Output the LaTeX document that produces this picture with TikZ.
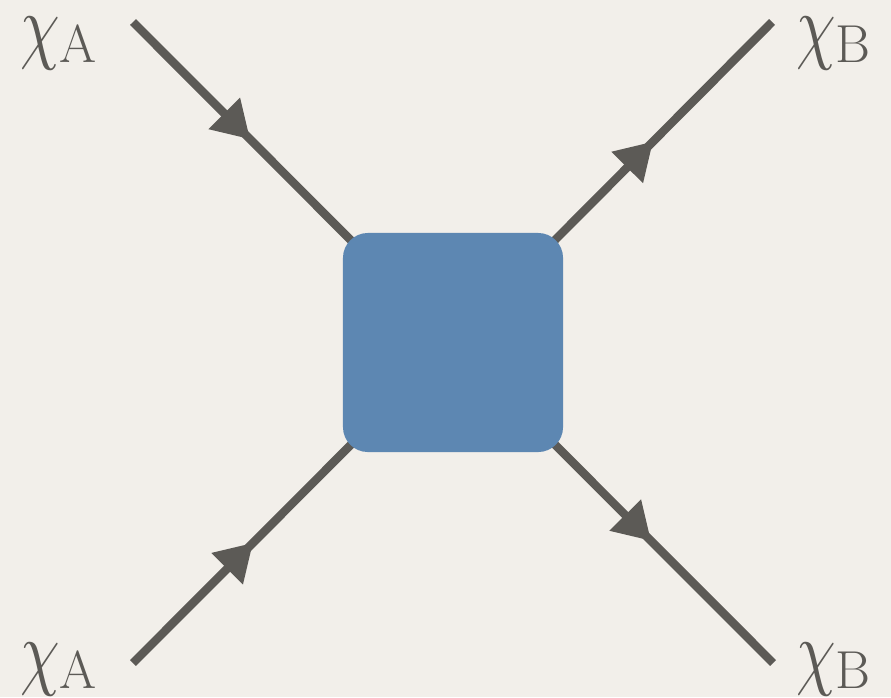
\documentclass[tikz,border=0pt]{standalone}
\usetikzlibrary{arrows.meta,decorations.markings,backgrounds}
\definecolor{paper}{RGB}{242,239,234}
\definecolor{legcolor}{RGB}{92,90,86}
\definecolor{blobblue}{RGB}{93,135,178}
\tikzset{
  leg/.style={line width=6pt,draw=legcolor,fill=none},
  arrowat/.style={postaction={decorate},decoration={markings,
    mark=at position #1 with {\arrow[legcolor]{Triangle[length=26pt,width=30pt]}}}},
  lbl/.style={anchor=base west,inner sep=0pt,text=legcolor}
}
\newcommand{\plabel}[1]{\raisebox{6pt}{\scalebox{4.5}[6]{$\chi$}}{\fontsize{38}{38}\selectfont #1}}
\begin{document}
\begin{tikzpicture}[x=0.025cm,y=-0.025cm]
  \useasboundingbox (0,0) rectangle (891,697);
  \node[fill=blobblue,rounded corners=17.7pt,minimum width=5.5cm,minimum height=5.475cm,inner sep=0pt] (blob) at (453,342.5) {};
  \node[lbl] (inAtop) at (20,62) {\plabel{A}};
  \node[lbl] (inAbot) at (20,688) {\plabel{A}};
  \node[lbl] (outBtop) at (796,62) {\plabel{B}};
  \node[lbl] (outBbot) at (796,688) {\plabel{B}};
  \coordinate (inAtopend) at (133,22);
  \coordinate (inAbotend) at (133,663);
  \coordinate (outBtopend) at (772,22);
  \coordinate (outBbotend) at (773,663);
  \begin{scope}[on background layer]
    \fill[paper] (0,0) rectangle (891,697);
    \draw[leg,arrowat=0.366] (inAtopend) -- (blob.center);
    \draw[leg,arrowat=0.375] (inAbotend) -- (blob.center);
    \draw[leg,arrowat=0.627] (blob.center) -- (outBtopend);
    \draw[leg,arrowat=0.619] (blob.center) -- (outBbotend);
  \end{scope}
\end{tikzpicture}
\end{document}
